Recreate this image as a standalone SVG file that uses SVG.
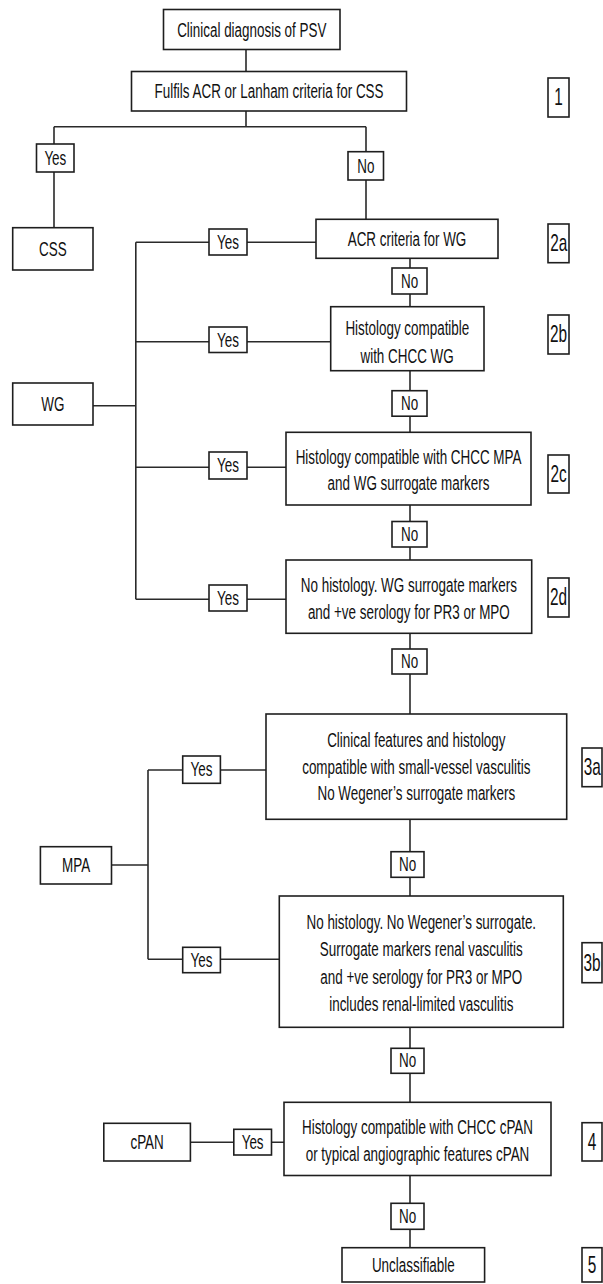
<svg xmlns="http://www.w3.org/2000/svg" width="603" height="1284" viewBox="0 0 603 1284">
<style>
.b{fill:#fff;stroke:#1e1e1e;stroke-width:1.6}
.t{font-family:"Liberation Sans",Arial,sans-serif;font-size:21px;fill:#111;text-anchor:middle;transform-box:fill-box;transform-origin:50% 50%;transform:scale(.64,1)}
.n{font-size:24px}
.c{fill:none;stroke:#2a2a2a;stroke-width:1.6}
</style>
<rect width="603" height="1284" fill="#fff"/>
<g id="connectors" class="c">
<path d="M246 49.3V71.7M246 111V126.7M54 126.7H366M54 126.7V227.7M366 126.7V219.3"/>
<path d="M410 258.3V306.7M410 370.7V432.3M410 505V560M410 633.3V714M410 819.3V896M410 1027.3V1102.3M410 1175.5V1247.7"/>
<path d="M93 405.7H135.8M135.8 242.3V599.3M135.8 242.3H316M135.8 341.7H330.7M135.8 467.3H286M135.8 599.3H286"/>
<path d="M111.5 865H148M148 770V959.3M148 770H266M148 959.3H279.3"/>
<path d="M190.4 1142.3H284"/>
</g>
<g id="start"><rect class="b" x="163.5" y="9.5" width="176.5" height="40"/><text class="t" x="251.7" y="37">Clinical diagnosis of PSV</text></g>
<g id="q1"><rect class="b" x="131.5" y="71.5" width="275" height="39.5"/><text class="t" x="269" y="98.5">Fulfils ACR or Lanham criteria for CSS</text></g>
<g id="n1"><rect class="b" x="548" y="78" width="21" height="39"/><text class="t n" x="558.5" y="105.5">1</text></g>
<g id="yes1"><rect class="b" x="36.5" y="144" width="37.5" height="28"/><text class="t" x="55.3" y="165.5">Yes</text></g>
<g id="no1"><rect class="b" x="348" y="151.7" width="35.5" height="28.3"/><text class="t" x="365.8" y="173">No</text></g>
<g id="css"><rect class="b" x="12.7" y="227.7" width="80.3" height="42.3"/><text class="t" x="52.9" y="256">CSS</text></g>
<g id="q2a"><rect class="b" x="316" y="219.3" width="182" height="39"/><text class="t" x="407" y="246">ACR criteria for WG</text></g>
<g id="n2a"><rect class="b" x="548" y="224" width="21" height="38.7"/><text class="t n" x="558.5" y="251.5">2a</text></g>
<g id="yes2a"><rect class="b" x="209" y="229" width="38" height="26"/><text class="t" x="228" y="249">Yes</text></g>
<g id="no2a"><rect class="b" x="392" y="268" width="35" height="26"/><text class="t" x="409.5" y="288">No</text></g>
<g id="q2b"><rect class="b" x="330.7" y="306.7" width="153.3" height="64"/><text class="t" x="407.3" y="335">Histology compatible</text><text class="t" x="407.3" y="363">with CHCC WG</text></g>
<g id="n2b"><rect class="b" x="548" y="315" width="21" height="39"/><text class="t n" x="558.5" y="342.5">2b</text></g>
<g id="yes2b"><rect class="b" x="209" y="327" width="38" height="25.5"/><text class="t" x="228" y="347">Yes</text></g>
<g id="wg"><rect class="b" x="12.7" y="383" width="80.3" height="42"/><text class="t" x="52.9" y="411.5">WG</text></g>
<g id="no2b"><rect class="b" x="392" y="390.7" width="35" height="25.5"/><text class="t" x="409.5" y="410">No</text></g>
<g id="q2c"><rect class="b" x="286" y="432.3" width="245" height="72.7"/><text class="t" x="408.5" y="464">Histology compatible with CHCC MPA</text><text class="t" x="408.5" y="490.5">and WG surrogate markers</text></g>
<g id="n2c"><rect class="b" x="548" y="455" width="21" height="38"/><text class="t n" x="558.5" y="482">2c</text></g>
<g id="yes2c"><rect class="b" x="209" y="452" width="38" height="27"/><text class="t" x="228" y="472.5">Yes</text></g>
<g id="no2c"><rect class="b" x="392" y="521.5" width="35" height="25.5"/><text class="t" x="409.5" y="541">No</text></g>
<g id="q2d"><rect class="b" x="286" y="560" width="245.7" height="73.3"/><text class="t" x="408.8" y="592">No histology. WG surrogate markers</text><text class="t" x="408.8" y="619">and +ve serology for PR3 or MPO</text></g>
<g id="n2d"><rect class="b" x="548" y="578" width="21" height="39"/><text class="t n" x="558.5" y="605.5">2d</text></g>
<g id="yes2d"><rect class="b" x="209" y="585" width="38" height="26"/><text class="t" x="228" y="605">Yes</text></g>
<g id="no2d"><rect class="b" x="392" y="649" width="35" height="25"/><text class="t" x="409.5" y="668.5">No</text></g>
<g id="q3a"><rect class="b" x="266" y="714" width="300.7" height="105.3"/><text class="t" x="416.3" y="747">Clinical features and histology</text><text class="t" x="416.3" y="774">compatible with small-vessel vasculitis</text><text class="t" x="416.3" y="800.5">No Wegener’s surrogate markers</text></g>
<g id="n3a"><rect class="b" x="582" y="748" width="20" height="38.7"/><text class="t n" x="592" y="775.5">3a</text></g>
<g id="yes3a"><rect class="b" x="182.7" y="756" width="37.7" height="27.3"/><text class="t" x="201.5" y="776.5">Yes</text></g>
<g id="mpa"><rect class="b" x="40.4" y="846.7" width="71.1" height="37.3"/><text class="t" x="76" y="872">MPA</text></g>
<g id="no3a"><rect class="b" x="391" y="851.7" width="33" height="25.6"/><text class="t" x="407.5" y="871">No</text></g>
<g id="q3b"><rect class="b" x="279.3" y="896" width="284" height="131.3"/><text class="t" x="421.3" y="929">No histology. No Wegener’s surrogate.</text><text class="t" x="421.3" y="956.5">Surrogate markers renal vasculitis</text><text class="t" x="421.3" y="984">and +ve serology for PR3 or MPO</text><text class="t" x="421.3" y="1011.5">includes renal-limited vasculitis</text></g>
<g id="n3b"><rect class="b" x="582" y="942.7" width="20" height="40"/><text class="t n" x="592" y="971">3b</text></g>
<g id="yes3b"><rect class="b" x="182.7" y="947.3" width="37.7" height="25.4"/><text class="t" x="201.5" y="967">Yes</text></g>
<g id="no3b"><rect class="b" x="391" y="1048.3" width="33" height="25"/><text class="t" x="407.5" y="1067.5">No</text></g>
<g id="q4"><rect class="b" x="284" y="1102.3" width="267" height="73.2"/><text class="t" x="417.5" y="1134">Histology compatible with CHCC cPAN</text><text class="t" x="417.5" y="1161">or typical angiographic features cPAN</text></g>
<g id="n4"><rect class="b" x="582" y="1122.7" width="20" height="38.3"/><text class="t n" x="592" y="1150">4</text></g>
<g id="cpan"><rect class="b" x="103.8" y="1123.3" width="86.6" height="37.7"/><text class="t" x="147.1" y="1149">cPAN</text></g>
<g id="yes4"><rect class="b" x="233.8" y="1129.3" width="37.7" height="25.7"/><text class="t" x="252.6" y="1149">Yes</text></g>
<g id="no4"><rect class="b" x="391" y="1203.3" width="33" height="26"/><text class="t" x="407.5" y="1223">No</text></g>
<g id="unclassifiable"><rect class="b" x="342" y="1247.7" width="142.6" height="34.3"/><text class="t" x="413.3" y="1272">Unclassifiable</text></g>
<g id="n5"><rect class="b" x="582" y="1247.7" width="20" height="34.3"/><text class="t n" x="592" y="1273">5</text></g>
</svg>
